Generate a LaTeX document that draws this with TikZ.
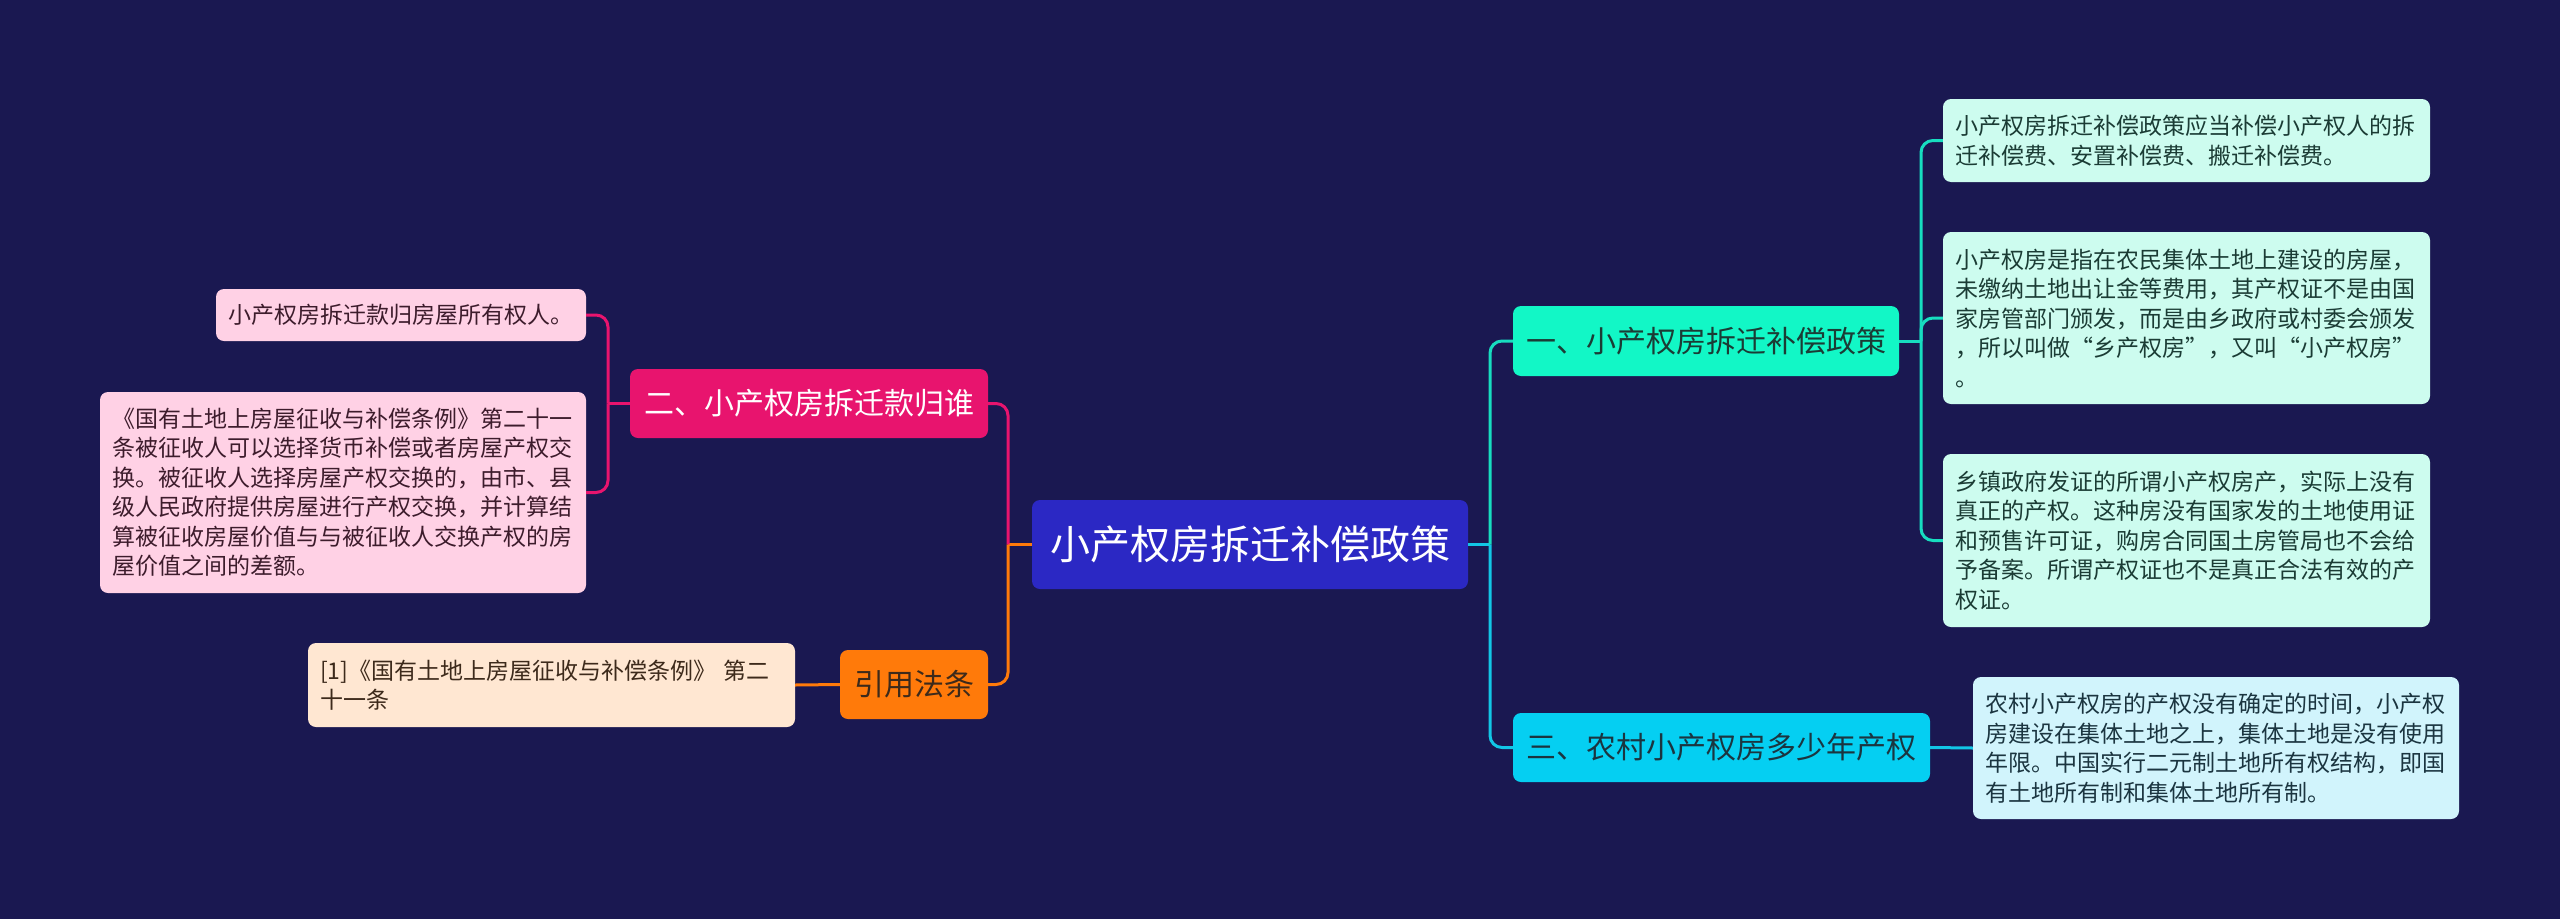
\documentclass[tikz,border=0pt]{standalone}
\usepackage{fontspec}
\setmainfont{Noto Sans CJK SC}
\definecolor{bg}{HTML}{1A1851}
\definecolor{cmain}{HTML}{2B28C4}
\definecolor{cone}{HTML}{12F7C6}
\definecolor{cthree}{HTML}{05CFF2}
\definecolor{ctwo}{HTML}{E8146E}
\definecolor{cref}{HTML}{FF7A0A}
\definecolor{lmint}{HTML}{CDFCEF}
\definecolor{lsky}{HTML}{D1F4FC}
\definecolor{lpink}{HTML}{FFD1E5}
\definecolor{lpeach}{HTML}{FFE7D2}
\definecolor{tmint}{HTML}{1B3C35}
\definecolor{tsky}{HTML}{1B3540}
\definecolor{tpink}{HTML}{3D1C2C}
\definecolor{tpeach}{HTML}{3D2A1B}
\definecolor{lnone}{HTML}{17DDC0}
\definecolor{lnthree}{HTML}{12C6E6}
\begin{document}
\begin{tikzpicture}[x=1pt,y=-1pt,
  box/.style={rounded corners=8pt, inner sep=0pt, anchor=center},
  leaf/.style={box, inner xsep=12pt, align=left, font=\fontsize{23}{29.5}\selectfont},
  topic/.style={box, align=center, font=\fontsize{30}{36}\selectfont},
  conn/.style={line width=3pt, rounded corners=12pt}]
\fill[bg] (0,0) rectangle (2560,919);
\useasboundingbox (0,0) rectangle (2560,919);

% central
\node[box, fill=cmain, text=white, minimum width=436pt, minimum height=89pt,
      font=\fontsize{40}{46}\selectfont] (c) at (1250,544.5) {小产权房拆迁补偿政策};

% main branches
\node[topic, fill=cone, text=tmint, minimum width=386pt, minimum height=70pt] (b1) at (1706,341) {一、小产权房拆迁补偿政策};
\node[topic, fill=cthree, text=tsky, minimum width=417pt, minimum height=69pt] (b3) at (1721.5,747.5) {三、农村小产权房多少年产权};
\node[topic, fill=ctwo, text=white, minimum width=358pt, minimum height=69pt] (b2) at (809,403.5) {二、小产权房拆迁款归谁};
\node[topic, fill=cref, text=tpeach, minimum width=148pt, minimum height=69pt] (br) at (914,684.5) {引用法条};

% leaves right
\node[leaf, fill=lmint, text=tmint, text width=463pt, minimum height=83pt] (la) at (2186.5,140.5)
  {小产权房拆迁补偿政策应当补偿小产权人的拆\\迁补偿费、安置补偿费、搬迁补偿费。};
\node[leaf, fill=lmint, text=tmint, text width=463pt, minimum height=172pt] (lb) at (2186.5,318)
  {小产权房是指在农民集体土地上建设的房屋，\\未缴纳土地出让金等费用，其产权证不是由国\\家房管部门颁发，而是由乡政府或村委会颁发\\，所以叫做“乡产权房”，又叫“小产权房”\\。};
\node[leaf, fill=lmint, text=tmint, text width=463pt, minimum height=173pt] (lc) at (2186.5,540.5)
  {乡镇政府发证的所谓小产权房产，实际上没有\\真正的产权。这种房没有国家发的土地使用证\\和预售许可证，购房合同国土房管局也不会给\\予备案。所谓产权证也不是真正合法有效的产\\权证。};
\node[leaf, fill=lsky, text=tsky, text width=462pt, minimum height=142pt] (ld) at (2216,748)
  {农村小产权房的产权没有确定的时间，小产权\\房建设在集体土地之上，集体土地是没有使用\\年限。中国实行二元制土地所有权结构，即国\\有土地所有制和集体土地所有制。};

% leaves left
\node[leaf, fill=lpink, text=tpink, text width=346pt, minimum height=52pt] (le) at (401,315)
  {小产权房拆迁款归房屋所有权人。};
\node[leaf, fill=lpink, text=tpink, text width=462pt, minimum height=201pt] (lf) at (343,492.5)
  {《国有土地上房屋征收与补偿条例》第二十一\\条被征收人可以选择货币补偿或者房屋产权交\\换。被征收人选择房屋产权交换的，由市、县\\级人民政府提供房屋进行产权交换，并计算结\\算被征收房屋价值与与被征收人交换产权的房\\屋价值之间的差额。};
\node[leaf, fill=lpeach, text=tpeach, text width=463pt, minimum height=84pt] (lg) at (551.5,685)
  {[1]《国有土地上房屋征收与补偿条例》 第二\\十一条};

% junctions
\coordinate (jr) at (1490,544.5);
\coordinate (jl) at (1008,544.5);
\coordinate (j1) at (1921,341);
\coordinate (j2) at (608,403.5);

% connectors right
\draw[conn, draw=lnthree] (c.east) -- (jr);
\draw[conn, draw=lnone] (jr) |- (b1.west);
\draw[conn, draw=lnthree] (jr) |- (b3.west);
\draw[conn, draw=lnone] (b1.east) -- (j1);
\draw[conn, draw=lnone] (j1) |- (la.west);
\draw[conn, draw=lnone] (j1) |- (lb.west);
\draw[conn, draw=lnone] (j1) |- (lc.west);
\draw[conn, draw=lnthree] (b3.east) -- (ld.west);

% connectors left
\draw[conn, draw=cref] (c.west) -- (jl);
\draw[conn, draw=ctwo] (jl) |- (b2.east);
\draw[conn, draw=cref] (jl) |- (br.east);
\draw[conn, draw=ctwo] (b2.west) -- (j2);
\draw[conn, draw=ctwo] (j2) |- (le.east);
\draw[conn, draw=ctwo] (j2) |- (lf.east);
\draw[conn, draw=cref] (br.west) -- (lg.east);
\end{tikzpicture}
\end{document}
